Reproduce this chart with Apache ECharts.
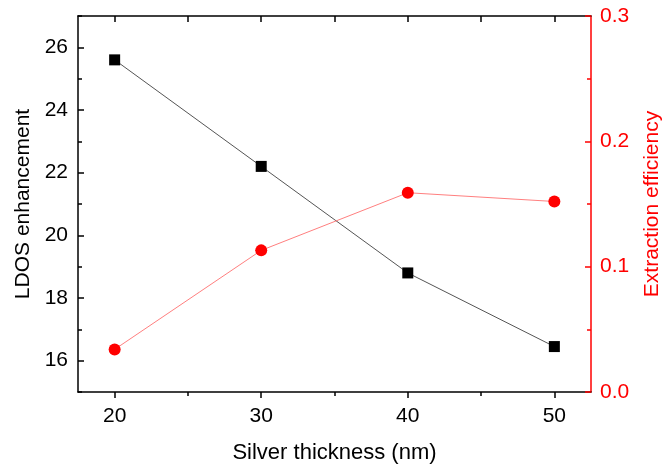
<!DOCTYPE html>
<html>
<head>
<meta charset="utf-8">
<script src="https://cdn.jsdelivr.net/npm/echarts@6/dist/echarts.min.js"></script>
<style>
html,body{margin:0;padding:0;background:#fff;}
#c{width:663px;height:468px;}
</style>
</head>
<body>
<div id="c"></div>
<script>
var thickness = [20, 30, 40, 50];
var ldos = [25.6, 22.2, 18.8, 16.45];
var extraction = [0.034, 0.113, 0.159, 0.152];
var xMajorTicks = [20, 30, 40, 50];
var xMinorTicks = [25, 35, 45];
var xTopTicks = [20, 25, 30, 35, 40, 45, 50];
var yLeftMajor = [16, 18, 20, 22, 24, 26];
var yLeftMinor = [15, 17, 19, 21, 23, 25, 27];

var FONT = 'Liberation Sans, Arial, sans-serif';
var chart = echarts.init(document.getElementById('c'));
chart.setOption({
  animation: false,
  backgroundColor: '#fff',
  grid: {left: 78, right: 72, top: 16, bottom: 76, containLabel: false, outerBoundsMode: 'none'},
  xAxis: [
    {
      type: 'value', position: 'bottom', min: 17.5, max: 52.5,
      axisLine: {show: true, lineStyle: {color: '#000', width: 1.5}},
      axisTick: {show: true, inside: false, length: 6, customValues: xMajorTicks, lineStyle: {color: '#000', width: 1.5}},
      axisLabel: {customValues: xMajorTicks, color: '#000', fontSize: 21, fontFamily: FONT, margin: 14},
      splitLine: {show: false},
      name: 'Silver thickness (nm)', nameLocation: 'middle', nameGap: 50,
      nameTextStyle: {color: '#000', fontSize: 22, fontFamily: FONT}
    },
    {
      type: 'value', position: 'bottom', min: 17.5, max: 52.5,
      axisLine: {show: false},
      axisTick: {show: true, inside: false, length: 4, customValues: xMinorTicks, lineStyle: {color: '#000', width: 1.5}},
      axisLabel: {show: false},
      splitLine: {show: false}
    },
    {
      type: 'value', position: 'top', min: 17.5, max: 52.5,
      axisLine: {show: true, lineStyle: {color: '#000', width: 1.5}},
      axisTick: {show: true, inside: true, length: 6, customValues: xTopTicks, lineStyle: {color: '#000', width: 1.5}},
      axisLabel: {show: false},
      splitLine: {show: false}
    }
  ],
  yAxis: [
    {
      type: 'value', position: 'left', min: 15, max: 27,
      axisLine: {show: true, lineStyle: {color: '#000', width: 1.5}},
      axisTick: {show: true, inside: true, length: 6, customValues: yLeftMajor, lineStyle: {color: '#000', width: 1.5}},
      axisLabel: {customValues: yLeftMajor, color: '#000', fontSize: 21, fontFamily: FONT, margin: 10},
      splitLine: {show: false},
      name: 'LDOS enhancement', nameLocation: 'middle', nameGap: 44, nameRotate: 90,
      nameTextStyle: {color: '#000', fontSize: 21, fontFamily: FONT}
    },
    {
      type: 'value', position: 'left', min: 15, max: 27,
      axisLine: {show: false},
      axisTick: {show: true, inside: true, length: 4, customValues: yLeftMinor, lineStyle: {color: '#000', width: 1.5}},
      axisLabel: {show: false},
      splitLine: {show: false}
    },
    {
      type: 'value', position: 'right', min: 0, max: 0.3, interval: 0.1,
      axisLine: {show: true, lineStyle: {color: '#ff0000', width: 1.5}},
      axisTick: {show: true, inside: true, length: 6, lineStyle: {color: '#ff0000', width: 1.5}},
      minorTick: {show: true, splitNumber: 2, length: 4, lineStyle: {color: '#ff0000', width: 1.5}},
      axisLabel: {color: '#ff0000', fontSize: 21, fontFamily: FONT, margin: 9,
        formatter: function (v) { return v.toFixed(1); }},
      splitLine: {show: false},
      name: 'Extraction efficiency', nameLocation: 'middle', nameGap: 51, nameRotate: 90,
      nameTextStyle: {color: '#ff0000', fontSize: 21, fontFamily: FONT}
    }
  ],
  series: [
    {
      type: 'line', xAxisIndex: 0, yAxisIndex: 0,
      data: thickness.map(function (x, i) { return [x, ldos[i]]; }),
      symbol: 'rect', symbolSize: 11,
      itemStyle: {color: '#000'},
      lineStyle: {color: '#555', width: 1}
    },
    {
      type: 'line', xAxisIndex: 0, yAxisIndex: 2,
      data: thickness.map(function (x, i) { return [x, extraction[i]]; }),
      symbol: 'circle', symbolSize: 12,
      itemStyle: {color: '#ff0000'},
      lineStyle: {color: '#ff7f7f', width: 1}
    }
  ]
});
</script>
</body>
</html>
